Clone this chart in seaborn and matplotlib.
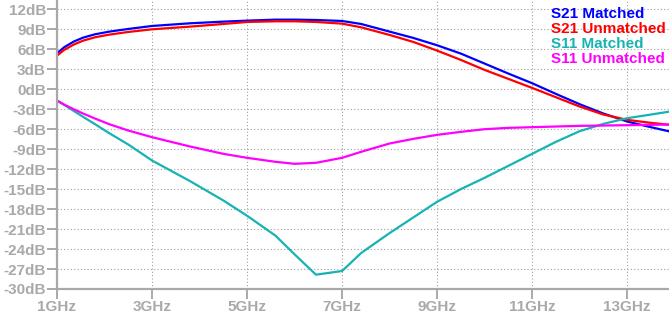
import matplotlib
matplotlib.use("Agg")
import matplotlib.pyplot as plt
import numpy as np
import pandas as pd
import seaborn as sns

# Frequency sweep points (GHz)
freq_ghz = [1.0, 1.15, 1.35, 1.55, 1.8, 2.1, 2.5, 3.0, 3.8, 4.5, 5.0, 5.6, 6.0,
            6.45, 7.0, 7.4, 8.0, 8.5, 9.0, 9.5, 10.0, 10.5, 11.0, 11.5, 12.0,
            12.5, 13.0, 13.5, 13.9]

# Gain / return loss in dB for each network
s21_matched = [5.4, 6.3, 7.15, 7.75, 8.25, 8.65, 9.05, 9.5, 9.9, 10.15, 10.3,
               10.45, 10.45, 10.4, 10.25, 9.8, 8.65, 7.7, 6.6, 5.35, 3.85, 2.35,
               0.9, -0.7, -2.25, -3.65, -4.85, -5.7, -6.35]
s21_unmatched = [5.05, 5.9, 6.7, 7.3, 7.8, 8.2, 8.6, 9.0, 9.4, 9.8, 10.1, 10.2,
                 10.2, 10.1, 9.85, 9.3, 8.15, 7.1, 5.8, 4.4, 2.9, 1.55, 0.2,
                 -1.2, -2.6, -3.8, -4.6, -5.05, -5.35]
s11_matched = [-1.7, -2.35, -3.25, -4.15, -5.25, -6.6, -8.3, -10.7, -13.8,
               -16.7, -19.0, -22.0, -24.8, -27.85, -27.3, -24.6, -21.6, -19.25,
               -16.9, -15.0, -13.3, -11.5, -9.7, -7.9, -6.3, -5.2, -4.35, -3.8,
               -3.35]
s11_unmatched = [-1.7, -2.3, -3.0, -3.65, -4.4, -5.25, -6.2, -7.2, -8.6, -9.7,
                 -10.3, -10.9, -11.2, -11.05, -10.3, -9.4, -8.15, -7.45, -6.85,
                 -6.4, -6.0, -5.8, -5.7, -5.6, -5.5, -5.45, -5.4, -5.35, -5.3]

series_names = ["S21 Matched", "S21 Unmatched", "S11 Matched", "S11 Unmatched"]
series_colors = ["#0000ff", "#ff0000", "#17b3b3", "#ff00ff"]
series_values = [s21_matched, s21_unmatched, s11_matched, s11_unmatched]

x_ticks = [1, 3, 5, 7, 9, 11, 13]
x_tick_labels = [f"{v}GHz" for v in x_ticks]
y_ticks = list(range(-30, 13, 3))
y_tick_labels = [f"{v}dB" for v in y_ticks]

df = pd.concat(
    [pd.DataFrame({"freq": freq_ghz, "db": vals, "series": name})
     for name, vals in zip(series_names, series_values)],
    ignore_index=True,
)

plt.rcParams["font.family"] = ["Liberation Sans", "DejaVu Sans"]
axis_gray = "#a9a9a9"

fig = plt.figure(figsize=(6.69, 3.21), dpi=100)
fig.patch.set_facecolor("white")
ax = fig.add_axes([57 / 669, 32 / 321, 612 / 669, 289 / 321])

sns.lineplot(
    data=df, x="freq", y="db", hue="series", hue_order=series_names,
    palette=dict(zip(series_names, series_colors)), estimator=None,
    linewidth=1.6, legend=False, ax=ax,
)

ax.set_xlim(1, 13.88)
ax.set_ylim(-30, 13.4)
ax.set_xticks(x_ticks)
ax.set_xticklabels(x_tick_labels)
ax.set_yticks(y_ticks)
ax.set_yticklabels(y_tick_labels)
ax.set_xlabel("")
ax.set_ylabel("")

ax.grid(True, color="#a0a0a0", linestyle=(0, (1, 2)), linewidth=0.8)
ax.set_axisbelow(True)
for side in ("top", "right"):
    ax.spines[side].set_visible(False)
for side in ("left", "bottom"):
    ax.spines[side].set_color(axis_gray)
    ax.spines[side].set_linewidth(1.6)

ax.tick_params(axis="both", colors=axis_gray, width=1.4, length=7,
               labelsize=11, pad=1)
for lab in ax.get_xticklabels() + ax.get_yticklabels():
    lab.set_fontweight("bold")
    lab.set_color(axis_gray)

# Series names written in their line colours
for i, (name, color) in enumerate(zip(series_names, series_colors)):
    fig.text(551 / 669, 1 - (14.3 + 15 * i) / 321, name, color=color,
             fontsize=11, fontweight="bold", ha="left", va="center")

fig.savefig("out.png", dpi=100)
